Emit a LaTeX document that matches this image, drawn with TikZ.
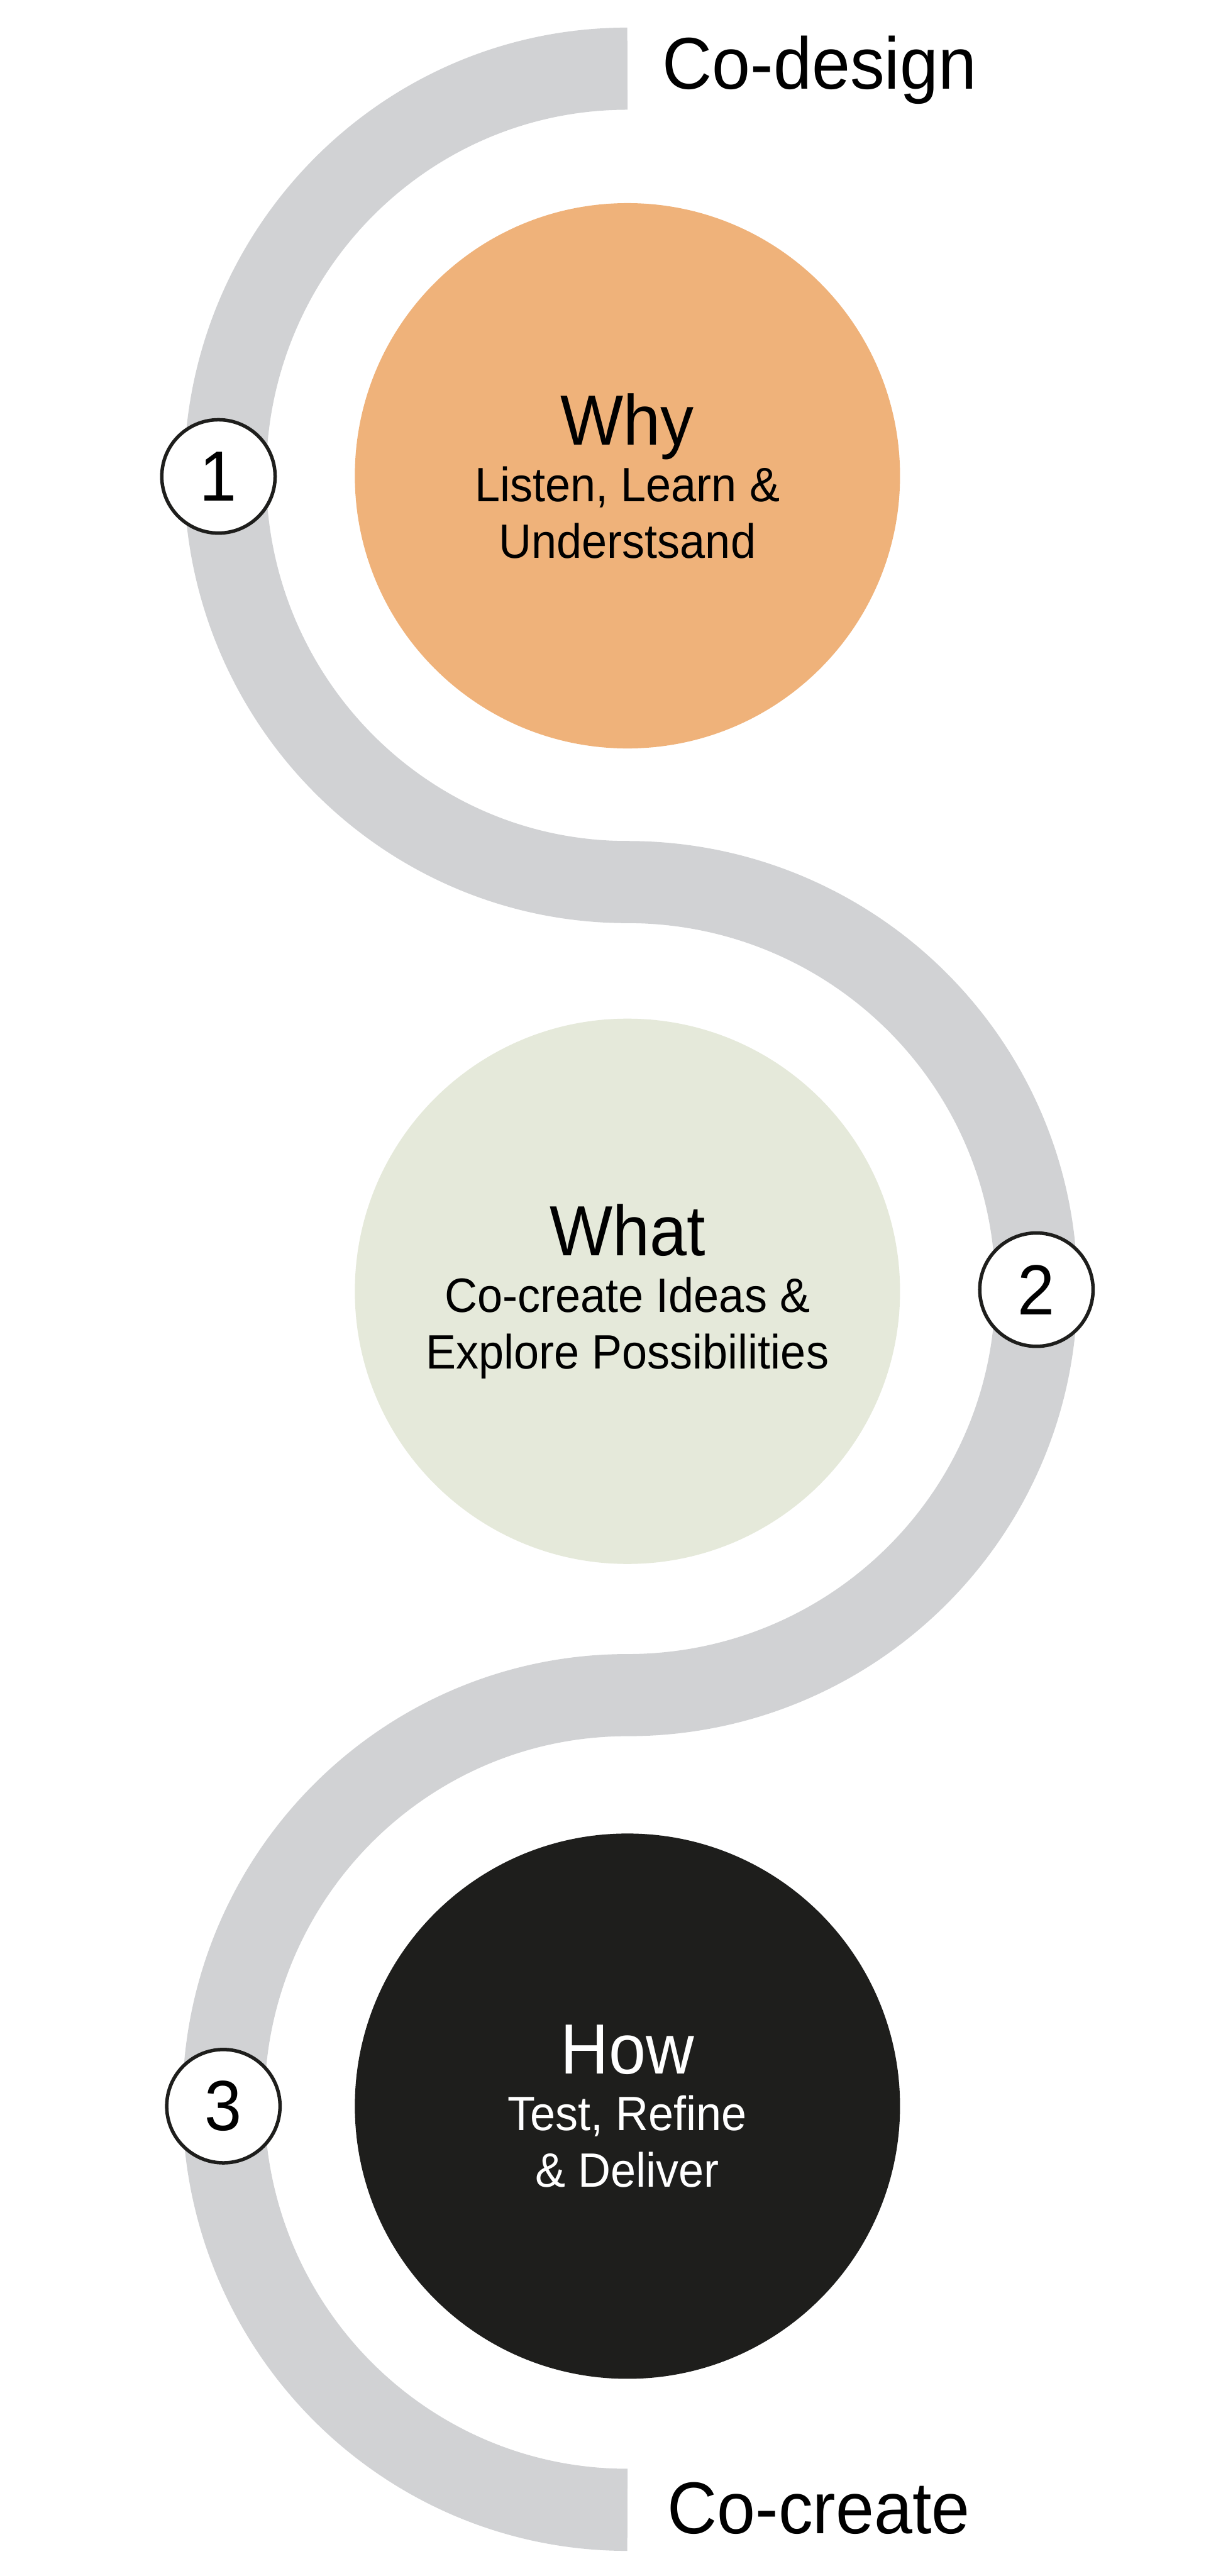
\documentclass[tikz,border=0pt]{standalone}
\usepackage{fontspec}
\setmainfont[FakeStretch=0.94]{Liberation Sans}
\usepackage{tikz}

\definecolor{trackgrey}{RGB}{209,210,212}
\definecolor{whyfill}{RGB}{239,178,122}
\definecolor{whatfill}{RGB}{229,233,218}
\definecolor{ink}{RGB}{30,30,28}
\newcommand{\stagetitle}[1]{{\fontsize{24.6}{19.6}\selectfont #1}}

\begin{document}
\begin{tikzpicture}[
				      x=0.02cm, y=-0.02cm,
				      every node/.style = {align=center, inner sep=0pt,
						      font=\fontsize{16.7}{19.6}\selectfont},
				      stage/.style = {shape=circle, minimum size=6.64cm},
				      badge/.style = {shape=circle, draw=ink, line width=1.2pt,
						      fill=white, minimum size=1.38cm,
						      font=\fontsize{24.6}{28}\selectfont},
				      phase/.style = {anchor=base west,
						      font=\fontsize{25.4}{30}\selectfont},
				      track/.style = {draw=trackgrey, line width=1cm}
			      ]

			      \useasboundingbox (0,0) rectangle (737,1568);

			      \coordinate (top) at (382,41.8);
			      \draw[track] (top)
			      arc[start angle=90, end angle=270, x radius=4.9cm, y radius=4.952cm] coordinate (turn1)
			      arc[start angle=90, end angle=-90, x radius=4.98cm, y radius=4.95cm] coordinate (turn2)
			      arc[start angle=90, end angle=270, x radius=4.92cm, y radius=4.96cm] coordinate (bottom);

			      \node[stage, fill=whyfill] (why) at (382,289.6)
			      {\stagetitle{Why}\\Listen, Learn \&\\Understsand};
			      \node[stage, fill=whatfill] (what) at (382,786)
			      {\stagetitle{What}\\Co-create Ideas \&\\Explore Possibilities};
			      \node[stage, fill=ink, text=white] (how) at (382,1282)
			      {\stagetitle{How}\\Test, Refine\\\& Deliver};

			      \node[badge] (one) at (133,290) {1};
			      \node[badge] (two) at (631,785) {2};
			      \node[badge] (three) at (136,1282) {3};

			      \node[phase] (codesign) at (403,54) {Co-design};
			      \node[phase] (cocreate) at (406,1542) {Co-create};
		      \end{tikzpicture}
\end{document}
